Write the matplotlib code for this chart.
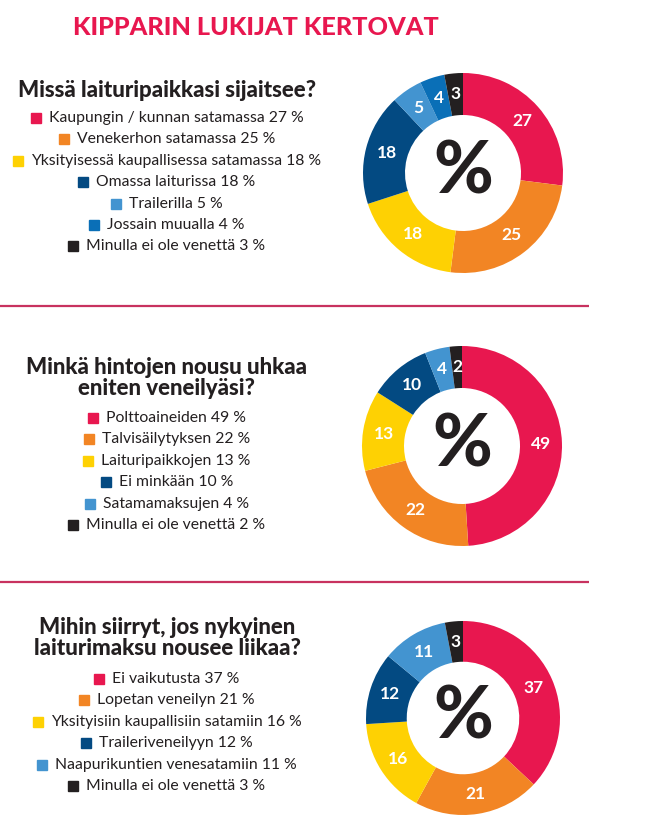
import matplotlib.pyplot as plt
from matplotlib.patches import Rectangle

plt.rcParams['font.family'] = ['Lato', 'DejaVu Sans']

PINK = "#E8174F"
ORANGE = "#F28524"
YELLOW = "#FED103"
DBLUE = "#034A82"
LBLUE = "#4394D0"
MBLUE = "#0A6FB7"
BLACK = "#231F20"

title = "KIPPARIN LUKIJAT KERTOVAT"

q1 = "Missä laituripaikkasi sijaitsee?"
labels1 = ["Kaupungin / kunnan satamassa", "Venekerhon satamassa",
           "Yksityisessä kaupallisessa satamassa", "Omassa laiturissa",
           "Trailerilla", "Jossain muualla", "Minulla ei ole venettä"]
values1 = [27, 25, 18, 18, 5, 4, 3]
colors1 = [PINK, ORANGE, YELLOW, DBLUE, LBLUE, MBLUE, BLACK]

q2 = "Minkä hintojen nousu uhkaa\neniten veneilyäsi?"
labels2 = ["Polttoaineiden", "Talvisäilytyksen", "Laituripaikkojen",
           "Ei minkään", "Satamamaksujen", "Minulla ei ole venettä"]
values2 = [49, 22, 13, 10, 4, 2]
colors2 = [PINK, ORANGE, YELLOW, DBLUE, LBLUE, BLACK]

q3 = "Mihin siirryt, jos nykyinen\nlaiturimaksu nousee liikaa?"
labels3 = ["Ei vaikutusta", "Lopetan veneilyn", "Yksityisiin kaupallisiin satamiin",
           "Traileriveneilyyn", "Naapurikuntien venesatamiin", "Minulla ei ole venettä"]
values3 = [37, 21, 16, 12, 11, 3]
colors3 = [PINK, ORANGE, YELLOW, DBLUE, LBLUE, BLACK]

W, H = 657, 817
fig = plt.figure(figsize=(W / 100, H / 100), dpi=100)
ax = fig.add_axes([0, 0, 1, 1])
ax.set_xlim(0, W)
ax.set_ylim(H, 0)
ax.axis('off')

ax.text(256, 27, title, ha='center', va='center', fontsize=18.2,
        fontweight='black', color=PINK)

for y in [306, 582]:
    ax.plot([0, 589], [y, y], color="#C8325F", lw=1.6, solid_capstyle='butt')

# (question, labels, values, colors, question y, first row y, donut centre, radius)
sections = [
    (q1, labels1, values1, colors1, 90, 118, (463, 173), 100),
    (q2, labels2, values2, colors2, 378, 418, (462, 446), 100),
    (q3, labels3, values3, colors3, 638, 679, (463, 718), 97),
]

sq, gap, step, cx = 10, 8, 21.4, 167
rows = []
for q, labels, values, colors, qy, ry, centre, r in sections:
    ax.text(cx, qy, q, ha='center', va='center', fontsize=16,
            fontweight='black', color=BLACK, linespacing=1.02)
    for i, (lab, v, c) in enumerate(zip(labels, values, colors)):
        y = ry + i * step
        t = ax.text(cx + (sq + gap) / 2, y, f"{lab} {v} %", ha='center',
                    va='center', fontsize=11.3, color=BLACK)
        rows.append((t, y, c))

    # donut
    dx, dy = centre
    dax = fig.add_axes([(dx - r) / W, (H - dy - r) / H, 2 * r / W, 2 * r / H])
    dax.pie(values, colors=colors, startangle=90, counterclock=False,
            autopct='%.0f', pctdistance=0.79,
            wedgeprops=dict(width=0.42, edgecolor='none'),
            textprops=dict(color='white', fontsize=12.5, fontweight='bold'))
    dax.text(0, 0, "%", ha='center', va='center', fontsize=52,
             fontweight='black', color=BLACK)
    dax.set_xlim(-1, 1)
    dax.set_ylim(-1, 1)

fig.canvas.draw()
inv = ax.transData.inverted()
ren = fig.canvas.get_renderer()
for t, y, c in rows:
    bb = t.get_window_extent(ren)
    x0 = inv.transform((bb.x0, bb.y0))[0]
    ax.add_patch(Rectangle((x0 - gap - sq, y - sq / 2), sq, sq, color=c))

fig.savefig("out.png", dpi=100)
